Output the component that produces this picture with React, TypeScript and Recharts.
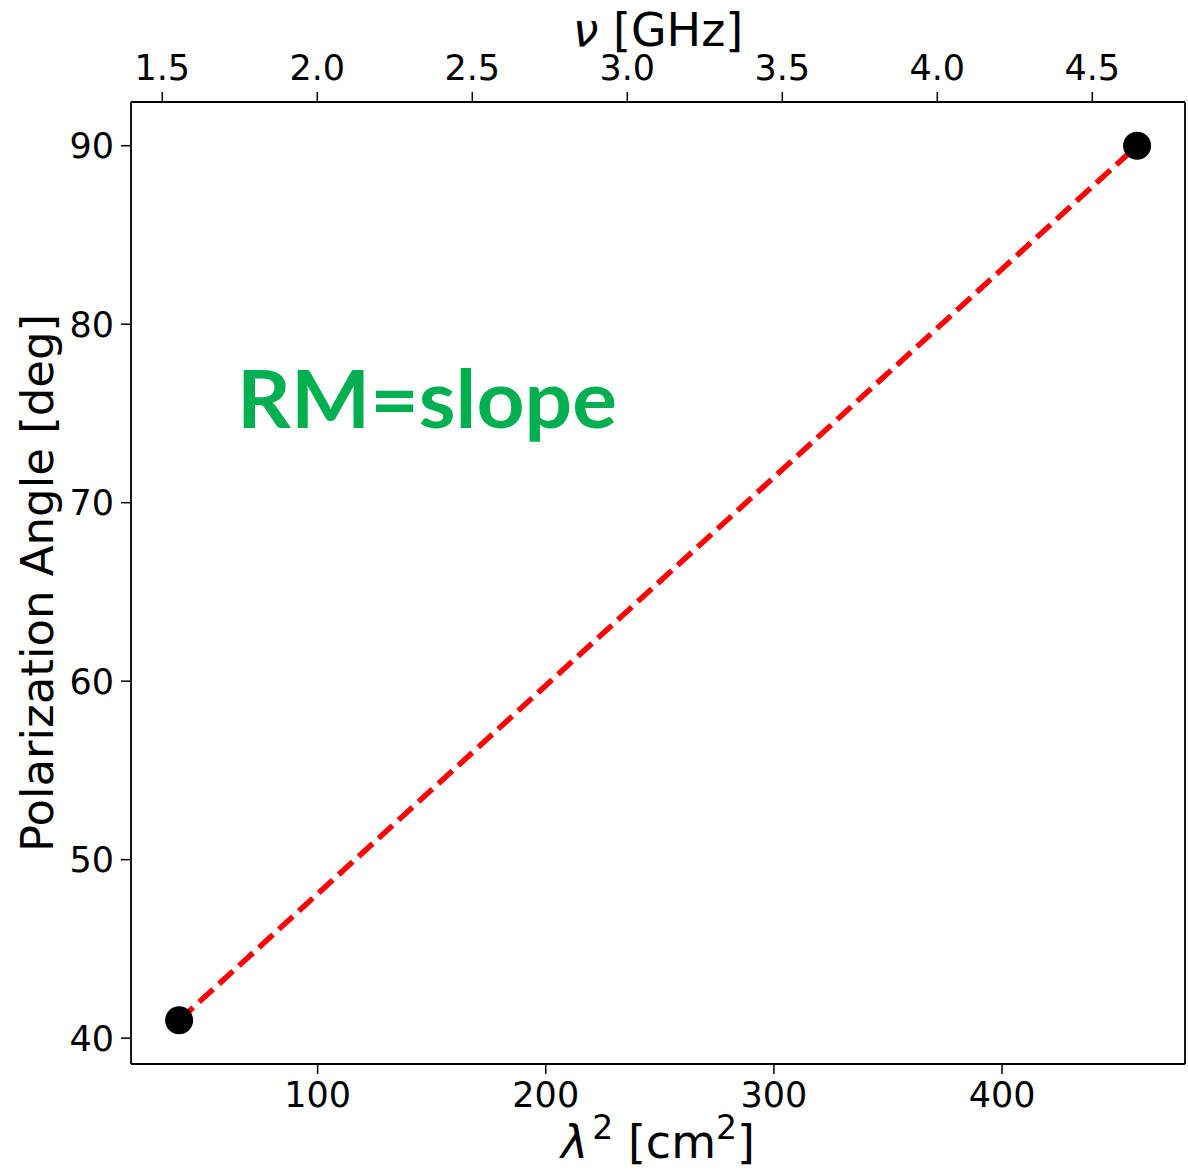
import { LineChart, Line, XAxis, YAxis } from 'recharts';

// lambda^2 [cm^2] vs polarization angle [deg]
const lambdaSq = [39.3, 459.2];
const angleDeg = [41, 90];

const bottomTicks = [100, 200, 300, 400];
const topTicks = [1.5, 2.0, 2.5, 3.0, 3.5, 4.0, 4.5];
const leftTicks = [40, 50, 60, 70, 80, 90];

const lamDomain: [number, number] = [18.2, 480.2];
const nuDomain: [number, number] = [1.399, 4.799];
const angDomain: [number, number] = [38.55, 92.45];

const FONT = '"DejaVu Sans", sans-serif';
const AXIS = '#000000';

const data = lambdaSq.map((x, i) => ({ x, y: angleDeg[i] }));
// only feeds the top (frequency) axis, draws nothing
const nuData = topTicks.map((nu) => ({ nu, y: null }));

const tickStyle = { fill: '#000000', fontSize: 35, fontFamily: FONT };

const BottomLabel = (props: any) => {
  const vb = props.viewBox || {};
  const cx = vb.x + vb.width / 2;
  return (
    <text x={cx} y={1158} textAnchor="middle" fontSize={46} fontFamily={FONT} fill="#000" xmlSpace="preserve">
      <tspan fontStyle="italic">λ</tspan>
      <tspan fontSize={33} dy={-19} dx={4}>2</tspan>
      <tspan dy={19}> [cm</tspan>
      <tspan fontSize={33} dy={-19}>2</tspan>
      <tspan dy={19}>]</tspan>
    </text>
  );
};

const TopLabel = (props: any) => {
  const vb = props.viewBox || {};
  const cx = vb.x + vb.width / 2;
  return (
    <text x={cx} y={46} textAnchor="middle" fontSize={46} fontFamily={FONT} fill="#000" xmlSpace="preserve">
      <tspan fontStyle="italic">ν</tspan>
      <tspan> [GHz]</tspan>
    </text>
  );
};

const LeftLabel = (props: any) => {
  const vb = props.viewBox || {};
  const cy = vb.y + vb.height / 2;
  return (
    <text
      x={53}
      y={cy}
      transform={`rotate(-90, 53, ${cy})`}
      textAnchor="middle"
      fontSize={45}
      fontFamily={FONT}
      fill="#000"
    >
      Polarization Angle [deg]
    </text>
  );
};

export default function App() {
  return (
    <div style={{ position: 'absolute', left: 0, top: 0, width: 1188, height: 1169, background: '#fff' }}>
      <LineChart width={1188} height={1169} data={data} margin={{ top: 0, right: 0, bottom: 0, left: 0 }}>
        <XAxis
          xAxisId="bottom"
          dataKey="x"
          type="number"
          orientation="bottom"
          domain={lamDomain}
          allowDataOverflow
          ticks={bottomTicks}
          interval={0}
          height={105}
          tickSize={10}
          tickMargin={8}
          tick={tickStyle}
          axisLine={{ stroke: AXIS, strokeWidth: 1.8 }}
          tickLine={{ stroke: AXIS, strokeWidth: 1.5 }}
          label={<BottomLabel />}
        />
        <XAxis
          xAxisId="top"
          dataKey="nu"
          type="number"
          orientation="top"
          domain={nuDomain}
          allowDataOverflow
          ticks={topTicks}
          interval={0}
          tickFormatter={(v: number) => v.toFixed(1)}
          height={102}
          tickSize={10}
          tickMargin={12}
          tick={tickStyle}
          axisLine={{ stroke: AXIS, strokeWidth: 1.8 }}
          tickLine={{ stroke: AXIS, strokeWidth: 1.5 }}
          label={<TopLabel />}
        />
        <YAxis
          yAxisId="left"
          type="number"
          orientation="left"
          domain={angDomain}
          allowDataOverflow
          ticks={leftTicks}
          interval={0}
          width={131}
          tickSize={10}
          tickMargin={7}
          tick={tickStyle}
          axisLine={{ stroke: AXIS, strokeWidth: 1.8 }}
          tickLine={{ stroke: AXIS, strokeWidth: 1.5 }}
          label={<LeftLabel />}
        />
        <YAxis
          yAxisId="right"
          type="number"
          orientation="right"
          domain={angDomain}
          allowDataOverflow
          width={3}
          tick={false}
          tickLine={false}
          axisLine={{ stroke: AXIS, strokeWidth: 1.8 }}
        />
        <Line
          xAxisId="top"
          yAxisId="left"
          data={nuData}
          dataKey="y"
          stroke="none"
          dot={false}
          activeDot={false}
          legendType="none"
          isAnimationActive={false}
        />
        <Line
          xAxisId="bottom"
          yAxisId="left"
          dataKey="y"
          type="linear"
          stroke="#ff0000"
          strokeWidth={5.5}
          strokeDasharray="19 8"
          dot={{ r: 14, fill: '#000', stroke: 'none' }}
          activeDot={false}
          isAnimationActive={false}
        />
      </LineChart>
      <svg width={1188} height={1169} style={{ position: 'absolute', left: 0, top: 0, pointerEvents: 'none' }}>
        <text
          x={237}
          y={428}
          fontSize={80}
          fontWeight="bold"
          fontFamily="Lato, 'Open Sans', sans-serif"
          fill="#00b050"
          textLength={380}
          lengthAdjust="spacingAndGlyphs"
        >
          RM=slope
        </text>
      </svg>
    </div>
  );
}
